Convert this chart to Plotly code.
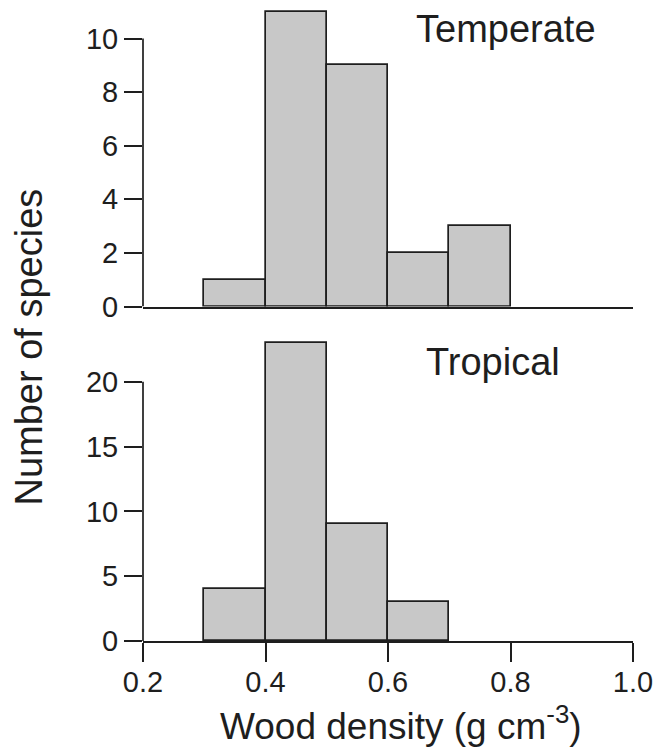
import plotly.graph_objects as go

# ---- data ----
bin_left = [0.3, 0.4, 0.5, 0.6, 0.7]
bin_width = 0.1
temperate_counts = [1, 11, 9, 2, 3]
tropical_left = [0.3, 0.4, 0.5, 0.6]
tropical_counts = [4, 23, 9, 3]
x_ticks = [0.2, 0.4, 0.6, 0.8, 1.0]
x_ticklabels = ["0.2", "0.4", "0.6", "0.8", "1.0"]
top_yticks = [0, 2, 4, 6, 8, 10]
bot_yticks = [0, 5, 10, 15, 20]

FONT = "Liberation Sans, Arial, Helvetica, sans-serif"
INK = "#1e1e1e"
FILL = "#c8c8c8"
LW = 1.7

# page body has an 8px margin; figure is sized/placed to compensate
W, H = 653, 741
ML, MR, MT, MB = 135, 28, 0, 108
PH = H - MT - MB  # plot height in px

fig = go.Figure()

fig.add_trace(go.Bar(
    x=[b + bin_width / 2 for b in bin_left], y=temperate_counts, width=bin_width,
    marker=dict(color=FILL, line=dict(color=INK, width=LW)),
    xaxis="x2", yaxis="y2", showlegend=False, hoverinfo="skip"))

fig.add_trace(go.Bar(
    x=[b + bin_width / 2 for b in tropical_left], y=tropical_counts, width=bin_width,
    marker=dict(color=FILL, line=dict(color=INK, width=LW)),
    xaxis="x", yaxis="y", showlegend=False, hoverinfo="skip"))

tickfont = dict(family=FONT, size=29, color=INK)

fig.update_layout(
    width=W, height=H,
    margin=dict(l=ML, r=MR, t=MT, b=MB, autoexpand=False),
    paper_bgcolor="white", plot_bgcolor="white",
    bargap=0,
    xaxis=dict(domain=[0, 1], range=[0.2, 1.0], anchor="y",
               tickvals=x_ticks, ticktext=x_ticklabels,
               ticks="outside", ticklen=19, tickwidth=LW, tickcolor=INK,
               ticklabelstandoff=-5,
               showline=True, linewidth=LW, linecolor=INK,
               showgrid=False, zeroline=False, tickfont=tickfont),
    yaxis=dict(domain=[0, 311 / PH], range=[0, 24], anchor="x",
               tickvals=bot_yticks, ticks="outside", ticklen=18,
               tickwidth=LW, tickcolor=INK, showline=False,
               showgrid=False, zeroline=False, tickfont=tickfont),
    xaxis2=dict(domain=[0, 1], range=[0.2, 1.0], anchor="y2",
                showticklabels=False, ticks="",
                showline=True, linewidth=LW, linecolor=INK,
                showgrid=False, zeroline=False),
    yaxis2=dict(domain=[(PH - 298.5) / PH, 1], range=[0, 11.14], anchor="x2",
                tickvals=top_yticks, ticks="outside", ticklen=18,
                tickwidth=LW, tickcolor=INK, showline=False,
                showgrid=False, zeroline=False, tickfont=tickfont),
)

# y-axis lines spanning only the tick range (R style)
fig.add_shape(type="line", xref="x2 domain", yref="y2", x0=0, x1=0,
              y0=top_yticks[0], y1=top_yticks[-1], line=dict(color=INK, width=LW))
fig.add_shape(type="line", xref="x domain", yref="y", x0=0, x1=0,
              y0=bot_yticks[0], y1=bot_yticks[-1], line=dict(color=INK, width=LW))

fig.add_annotation(text="Temperate", xref="x2", yref="y2", x=0.793, y=10.37,
                   xanchor="center", yanchor="middle",
                   showarrow=False, font=dict(family=FONT, size=38, color=INK))
fig.add_annotation(text="Tropical", xref="x", yref="y", x=0.772, y=21.5,
                   xanchor="center", yanchor="middle",
                   showarrow=False, font=dict(family=FONT, size=38, color=INK))

fig.add_annotation(text="Number of species", xref="paper", yref="paper",
                   x=(20 - ML) / (W - ML - MR), y=(PH - 339.5) / PH,
                   xanchor="center", yanchor="middle", textangle=-90,
                   showarrow=False, font=dict(family=FONT, size=38, color=INK))
fig.add_annotation(text="Wood density (g cm<sup>-3</sup>)", xref="paper", yref="paper",
                   x=(393 - ML) / (W - ML - MR), y=(PH - 715) / PH,
                   xanchor="center", yanchor="middle", showarrow=False,
                   font=dict(family=FONT, size=37, color=INK))

fig.write_html("out.html")
